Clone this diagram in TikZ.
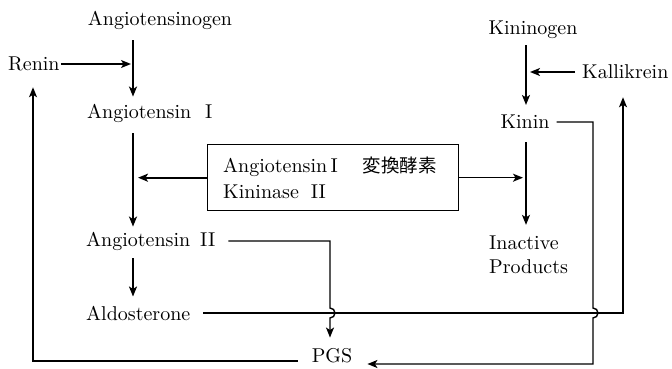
\documentclass[tikz,border=0pt]{standalone}
\usepackage{fontspec}
\newfontfamily\cjk{Noto Sans CJK JP}
\usetikzlibrary{arrows.meta}
\newcommand\stxt[1]{\scalebox{2}{#1}}
\begin{document}
\begin{tikzpicture}[x=1pt,y=-1pt,
  lbl/.style={inner sep=0pt, font=\fontsize{10}{24}\selectfont},
  conn/.style={line width=1.4pt},
  arr/.style={conn,-{Stealth[length=10pt,width=8pt,inset=2.5pt]}},
  thickarr/.style={arr, line width=2pt}]
\useasboundingbox (0,0) rectangle (672,369);
% nodes
\node[lbl] (ago) at (160,20) {\stxt{Angiotensinogen}};
\node[lbl,anchor=west] (renin) at (8,64) {\stxt{Renin}};
\node[lbl,anchor=west] (a1) at (87,113) {\stxt{Angiotensin}\hspace{14pt}\stxt{I}};
\node[lbl,anchor=west] (a2) at (86,241) {\stxt{Angiotensin}\hspace{10pt}\stxt{II}};
\node[lbl,anchor=west] (aldo) at (86,313) {\stxt{Aldosterone}};
\node[lbl] (pgs) at (332,356) {\stxt{PGS}};
\node[lbl] (kgen) at (533,30) {\stxt{Kininogen}};
\node[lbl,anchor=west] (kal) at (582,72) {\stxt{Kallikrein}};
\node[lbl] (kin) at (525,122) {\stxt{Kinin}};
\node[lbl,anchor=west,align=left] (inact) at (489,255) {\stxt{Inactive}\\\stxt{Products}};
\node[draw, conn, minimum width=251pt, minimum height=66pt, anchor=north west, inner sep=0pt] (box) at (207,144) {};
\node[lbl,anchor=west] (bt1) at (223,167) {\stxt{Angiotensin\,I}\hspace{25pt}{\cjk\fontsize{18.5}{20}\selectfont 変換酵素}};
\node[lbl,anchor=west] (bt2) at (223,192) {\stxt{Kininase}\hspace{12pt}\stxt{II}};
% column coordinates
\coordinate (cA) at (133,0);
\coordinate (cK) at (526,0);
\coordinate (cR) at (33,0);
\coordinate (cP) at (330,0);
\coordinate (cKn) at (593,0);
\coordinate (cKl) at (623,0);
% connectors
\draw[thickarr, shorten <=11pt, shorten >=7pt] (ago.south -| cA) -- (a1.north -| cA);
\draw[arr, shorten <=1pt, shorten >=2pt] (renin.east) -- (renin.east -| cA);
\draw[thickarr, shorten <=11pt, shorten >=5pt] (a1.south -| cA) -- (a2.north -| cA);
\draw[thickarr, shorten <=8pt, shorten >=9pt] (a2.south -| cA) -- (aldo.north -| cA);
\draw[thickarr, shorten >=5pt] (box.west) -- (box.west -| cA);
\draw[arr, shorten >=3pt] (box.east) -- (box.east -| cK);
\draw[arr, shorten <=6pt, shorten >=10pt] (kgen.south -| cK) -- (kin.north -| cK);
\draw[arr, shorten <=7pt, shorten >=4pt] (kal.west) -- (kal.west -| cK);
\draw[arr, shorten <=13pt, shorten >=11pt] (kin.south -| cK) -- (inact.north -| cK);
% Kinin -> PGS
\draw[arr, shorten <=7pt, shorten >=15pt] (kin.east) -- (kin.east -| cKn)
  -- ([yshift=5pt]aldo.east -| cKn) arc[start angle=90, end angle=-90, radius=5pt]
  -- ([yshift=-8pt]pgs.east -| cKn) -- ([yshift=-8pt]pgs.east);
% Angiotensin II -> PGS
\draw[arr, shorten <=13pt, shorten >=11pt] (a2.east) -- (a2.east -| cP)
  -- ([yshift=5pt]aldo.east -| cP) arc[start angle=90, end angle=-90, radius=5pt]
  -- (pgs.north -| cP);
% Aldosterone -> Kallikrein
\draw[arr, shorten <=13pt, shorten >=18pt] (aldo.east) -- (aldo.east -| cKl) -- (kal.south -| cKl);
% PGS -> Renin
\draw[arr, shorten <=14pt, shorten >=16pt] ([yshift=-5pt]pgs.west) -- ([yshift=-5pt]pgs.west -| cR) -- (renin.south -| cR);
\end{tikzpicture}
\end{document}
